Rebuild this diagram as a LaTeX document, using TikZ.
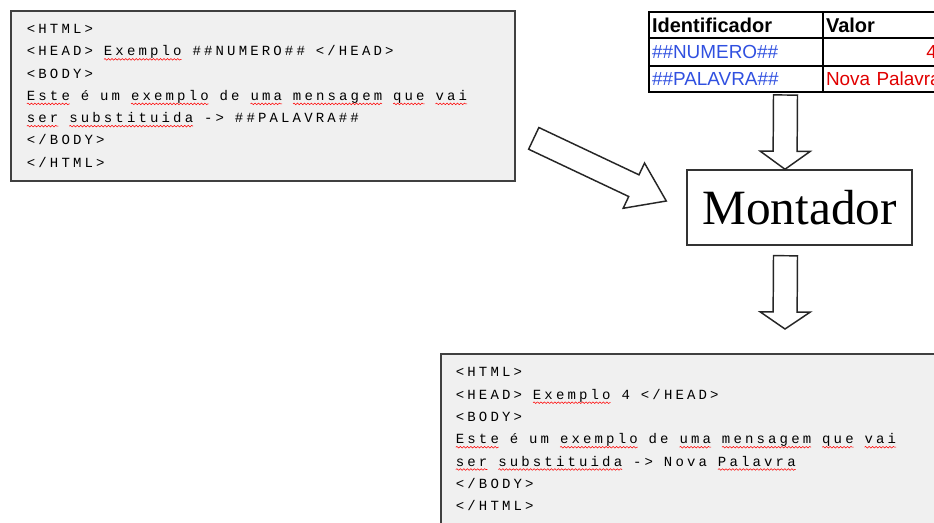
\documentclass[tikz,border=0pt]{standalone}
\usepackage{fontspec}
\usetikzlibrary{calc,positioning,decorations.pathmorphing}
\newfontfamily\codefont[LetterSpace=22.5]{Liberation Mono}
\newfontfamily\tabfont{Liberation Sans}
\newfontfamily\montfont{Liberation Serif}
\definecolor{idblue}{HTML}{3050E0}
\definecolor{valred}{HTML}{E00000}
\definecolor{boxgray}{HTML}{F0F0F0}
% code font and one monospaced blank
\newcommand\codesize{\codefont\fontsize{10.5}{16.7}\selectfont}
\newcommand\sk{\hspace{8.19pt}}
% red spell-check wave under a word
\newsavebox\sperrbox
\newcommand\sperr[1]{\leavevmode\sbox\sperrbox{#1}\rlap{\tikz[overlay]\draw[red, fill=none, line width=0.4pt,
  decorate, decoration={snake, amplitude=0.6pt, segment length=2.6pt}] (0pt,-2.6pt) -- (\the\wd\sperrbox,-2.6pt);}\usebox\sperrbox}
% hollow block arrow: #1 head length, #2 tail, #3 tip
\newcommand\blockarrow[3]{%
  \coordinate (hb) at ($(#3)!#1!(#2)$);
  \draw[blockarr] ($(#2)!9pt!90:(#3)$) -- ($(hb)!9pt!90:(#3)$) -- ($(hb)!18.75pt!90:(#3)$)
    -- (#3) -- ($(hb)!18.75pt!-90:(#3)$) -- ($(hb)!9pt!-90:(#3)$) -- ($(#2)!9pt!-90:(#3)$) -- cycle;
}

\begin{document}
\begin{tikzpicture}[x=0.75pt, y=-0.75pt,
  codebox/.style={draw=black!75, line width=1.3pt, fill=boxgray, anchor=north west,
    align=left, inner xsep=12pt, inner ysep=0pt, font=\codesize},
  cell/.style={draw, line width=1.2pt, anchor=north west, outer sep=0pt, inner xsep=2.25pt,
    inner ysep=0pt, align=left, font=\tabfont\fontsize{14.2}{16}\selectfont},
  hdr/.style={cell, font=\tabfont\bfseries\fontsize{15}{17}\selectfont},
  montbox/.style={draw=black!80, line width=1.1pt, minimum width=168.75pt, minimum height=56.25pt,
    inner sep=0pt, font=\montfont\fontsize{37}{40}\selectfont},
  blockarr/.style={draw=black!85, line width=1.1pt, fill=white, line join=miter}]
\useasboundingbox (0,0) rectangle (934,522);
\clip (0,0) rectangle (934,522);
% =================== source template ===================
\node[codebox, text width=354pt, minimum height=127.5pt] (src) at (10,10)
  {<HTML>\\
   <HEAD>\sk\sperr{Exemplo}\sk\#\#NUMERO\#\#\sk</HEAD>\\
   <BODY>\\
   \sperr{Este}\sk é\sk um\sk\sperr{exemplo}\sk de\sk\sperr{uma}\sk\sperr{mensagem}\sk\sperr{que}\sk\sperr{vai}\\
   \sperr{ser}\sk\sperr{substituida}\sk->\sk\#\#PALAVRA\#\#\\
   </BODY>\\
   </HTML>};
% =================== table of values ===================
\node[hdr, text width=126pt, minimum height=19.5pt] (hdrId) at (649,12) {Identificador};
\node[hdr, text width=83.25pt, minimum height=19.5pt] (hdrVal) at (hdrId.north east) {Valor};
\node[cell, text width=126pt, minimum height=21pt, text=idblue] (numId) at (hdrId.south west) {\#\#NUMERO\#\#};
\node[cell, text width=83.25pt, minimum height=21pt, text=valred, align=right] (numVal) at (numId.north east) {4};
\node[cell, text width=126pt, minimum height=19.5pt, text=idblue] (palId) at (numId.south west) {\#\#PALAVRA\#\#};
\node[cell, text width=83.25pt, minimum height=19.5pt, text=valred] (palVal) at (palId.north east) {\mbox{Nova Palavra}};
\draw[line width=2pt] (hdrId.south west) -- (hdrVal.south east);
% =================== assembler ===================
\node[montbox] (mont) at (799.5,207.5) {Montador};
% =================== result ===================
\node[codebox, text width=367.5pt, minimum height=128pt, inner xsep=11.25pt] (res) at (440,353)
  {<HTML>\\
   <HEAD>\sk\sperr{Exemplo}\sk 4\sk</HEAD>\\
   <BODY>\\
   \sperr{Este}\sk é\sk um\sk\sperr{exemplo}\sk de\sk\sperr{uma}\sk\sperr{mensagem}\sk\sperr{que}\sk\sperr{vai}\\
   \sperr{ser}\sk\sperr{substituida}\sk->\sk Nova\sk\sperr{Palavra}\\
   </BODY>\\
   </HTML>};
% block arrows
\coordinate (a1s) at ($(palId.south east)+(-37.5,3)$);
\coordinate (a1e) at ($(mont.north)+(-14.5,0)$);
\blockarrow{13.5pt}{a1s}{a1e}
\coordinate (a2s) at ($(mont.south)+(-14,10)$);
\coordinate (a2e) at ($(res.north west)+(345,-24)$);
\blockarrow{12.75pt}{a2s}{a2e}
\coordinate (a3s) at ($(src.east)+(18,42.5)$);
\coordinate (a3e) at ($(mont.west)+(-20,-6.5)$);
\blockarrow{26.9pt}{a3s}{a3e}
\end{tikzpicture}
\end{document}
